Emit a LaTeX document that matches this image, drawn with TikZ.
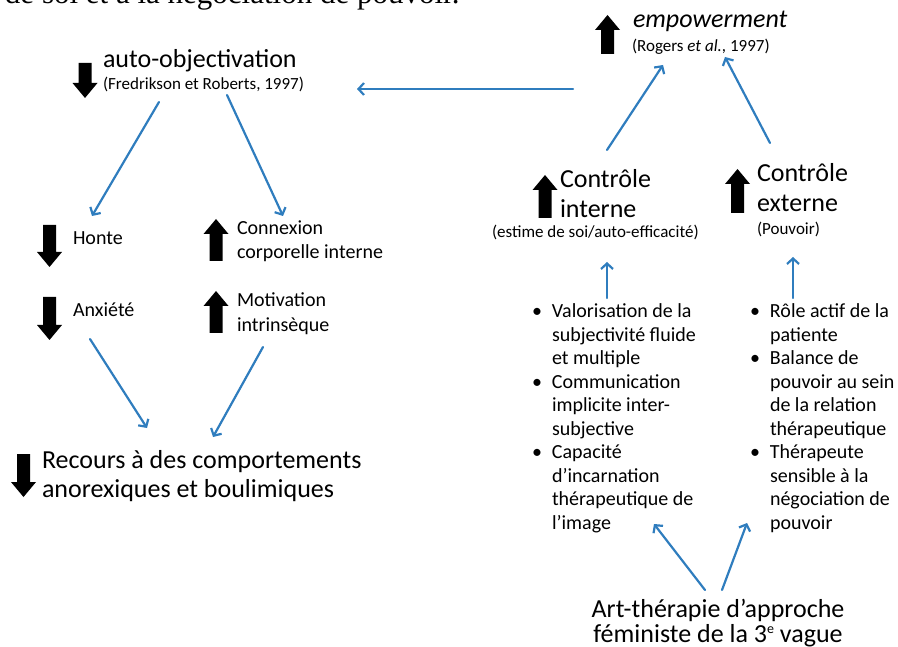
\documentclass[tikz,border=0pt]{standalone}
\usepackage{fontspec}
\setmainfont{Carlito}
\newfontfamily\serifcut{Liberation Serif}
\usetikzlibrary{arrows.meta}
\definecolor{linkblue}{RGB}{47,125,190}

\newcommand\mlines[3]{\parbox[t]{#1}{\raggedright\setlength{\parskip}{0pt}\setlength{\baselineskip}{#2}#3}}
\newcommand\bitem[1]{\par\noindent\hangindent=21pt\hangafter=1\makebox[21pt][l]{\hspace{1pt}•}#1\par}
% black block arrows: centre x, top y, bottom y
\newcommand\blkup[3]{\fill[black] (#1-6.5,#3) -- (#1-6.5,#2+15) -- (#1-12.5,#2+15) -- (#1,#2) -- (#1+12.5,#2+15) -- (#1+6.5,#2+15) -- (#1+6.5,#3) -- cycle;}
\newcommand\blkdown[3]{\fill[black] (#1-6.5,#2) -- (#1-6.5,#3-15) -- (#1-12.5,#3-15) -- (#1,#3) -- (#1+12.5,#3-15) -- (#1+6.5,#3-15) -- (#1+6.5,#2) -- cycle;}

\begin{document}
\begin{tikzpicture}[x=1pt,y=-1pt,
  txt/.style={inner sep=0pt, outer sep=0pt, anchor=base west},
  big/.style={txt, font=\fontsize{26}{30}\selectfont},
  med/.style={txt, font=\fontsize{20}{23.5}\selectfont},
  sml/.style={txt, font=\fontsize{17}{20}\selectfont},
  conn/.style={draw=linkblue, line width=2.2pt, line cap=round,
    -{Straight Barb[length=5.5pt,width=12pt]}}]
\useasboundingbox (0,0) rectangle (898,647);

% clipped line of running text above the figure
\begin{scope}
\clip (0,0) rectangle (898,20);
\node[txt, font=\serifcut\fontsize{31}{34}\selectfont] (cut) at (5,4) {de soi et à la négociation de pouvoir.};
\end{scope}

% left part
\blkdown{85}{63}{98}
\node[big] (autoobj) at (103,68) {auto-objectivation};
\node[sml] (fred) at (103,90) {(Fredrikson et Roberts, 1997)};

\blkdown{49.5}{225}{267}
\node[med] (honte) at (73,245) {Honte};
\blkup{216}{219}{261}
\node[med] (connex) at (237,235) {\mlines{170pt}{23.5pt}{Connexion\\corporelle interne}};

\blkdown{49.5}{297}{340}
\node[med] (anx) at (73,317) {Anxiété};
\blkup{216}{291}{333}
\node[med] (motiv) at (237,307) {\mlines{130pt}{25pt}{Motivation\\intrinsèque}};

\blkdown{23.5}{454}{497}
\node[big] (recours) at (42,468) {\mlines{340pt}{29.5pt}{Recours à des comportements\\anorexiques et boulimiques}};

% right part
\blkup{607.5}{15}{54}
\node[big] (empow) at (633,28) {\itshape empowerment};
\node[sml] (rogers) at (632,52) {(Rogers \textit{et al.}, 1997)};

\blkup{545}{175}{218}
\node[big] (ctrlint) at (560,188) {\mlines{110pt}{30pt}{Contrôle\\interne}};
\node[sml] (estime) at (492,238) {(estime de soi/auto-efficacité)};

\blkup{737.5}{169}{213}
\node[big] (ctrlext) at (757,182) {\mlines{110pt}{30pt}{Contrôle\\externe}};
\node[sml] (pouv) at (757,235) {(Pouvoir)};

\node[med] (bulL) at (531,318) {\mlines{175pt}{23.5pt}{%
\bitem{Valorisation de la\newline subjectivité fluide\newline et multiple}%
\bitem{Communication\newline implicite inter-\newline subjective}%
\bitem{Capacité\newline d’incarnation\newline thérapeutique de\newline l’image}}};

\node[med] (bulR) at (749,318) {\mlines{149pt}{23.5pt}{%
\bitem{Rôle actif de la\newline patiente}%
\bitem{Balance de\newline pouvoir au sein\newline de la relation\newline thérapeutique}%
\bitem{Thérapeute\newline sensible à la\newline négociation de\newline pouvoir}}};

\node[big, anchor=base] (art) at (718,617) {\parbox[t]{300pt}{\centering\setlength{\baselineskip}{25pt}Art-thérapie d’approche\\féministe de la 3\raisebox{0.34em}{\fontsize{14}{14}\selectfont e} vague}};

% connectors
\draw[conn] ([shift={(-59,37)}]rogers.base west) -- ([shift={(254,-1)}]fred.base west);
\draw[conn] ([shift={(56,12)}]fred.base west) -- ([shift={(19,-29)}]honte.base west);
\draw[conn] ([shift={(124,5)}]fred.base west) -- ([shift={(46,-19)}]connex.base west);
\draw[conn] ([shift={(17,22)}]anx.base west) -- ([shift={(105,-40)}]recours.base west);
\draw[conn] ([shift={(26,40)}]motiv.base west) -- ([shift={(171,-31)}]recours.base west);
\draw[conn] ([shift={(47,-38)}]ctrlint.base west) -- ([shift={(31,13)}]rogers.base west);
\draw[conn] ([shift={(13,-39)}]ctrlext.base west) -- ([shift={(93,5)}]rogers.base west);
\draw[conn] ([shift={(76,-20)}]bulL.base west) -- ([shift={(115,24)}]estime.base west);
\draw[conn] ([shift={(44,-20)}]bulR.base west) -- ([shift={(36,22)}]pouv.base west);
\draw[conn] ([shift={(-13,-27)}]art.base) -- ([shift={(123,206)}]bulL.base west);
\draw[conn] ([shift={(4,-27)}]art.base) -- ([shift={(-2,205)}]bulR.base west);
\end{tikzpicture}
\end{document}
